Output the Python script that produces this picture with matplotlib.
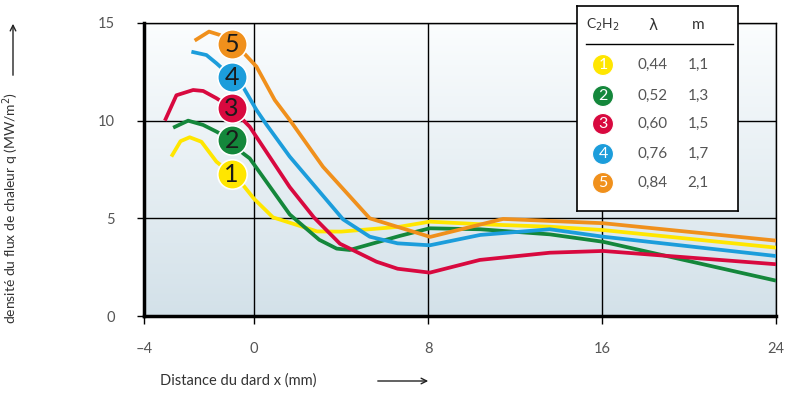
import numpy as np
import matplotlib
matplotlib.use('Agg')
import matplotlib.pyplot as plt
from matplotlib.patches import Circle
from matplotlib.colors import LinearSegmentedColormap

plt.rcParams['font.family'] = ['Lato', 'DejaVu Sans']

# courbes (x en mm, q en MW/m2)
x1 = [-3.8, -3.38, -2.96, -2.42, -1.73, -1.03, -0.51, 0.0, 0.87, 2.9, 4.0, 6.7, 8.08, 10.38, 13.6, 16.05, 24]
q1 = [8.16, 8.95, 9.15, 8.92, 7.9, 7.27, 6.71, 6.0, 5.05, 4.33, 4.32, 4.57, 4.83, 4.7, 4.57, 4.4, 3.5]

x2 = [-3.72, -3.03, -2.34, -1.73, -1.03, -0.51, -0.2, 1.64, 3.0, 3.8, 4.4, 6.7, 8.08, 10.4, 13.6, 16.05, 24]
q2 = [9.64, 10.0, 9.78, 9.44, 9.01, 8.33, 8.07, 5.2, 3.9, 3.45, 3.38, 4.1, 4.49, 4.44, 4.18, 3.8, 1.81]

x3 = [-4.1, -3.57, -2.8, -2.34, -1.73, -1.03, -0.51, -0.2, 1.64, 2.75, 3.95, 5.63, 6.6, 8.08, 10.38, 13.6, 16.05, 24]
q3 = [10.0, 11.3, 11.57, 11.52, 11.15, 10.65, 10.04, 9.69, 6.6, 5.05, 3.7, 2.78, 2.42, 2.22, 2.87, 3.24, 3.33, 2.65]

x4 = [-2.88, -2.19, -1.73, -1.03, -0.51, 0.11, 0.57, 1.64, 4.09, 5.32, 6.6, 8.08, 10.4, 13.6, 16.05, 24]
q4 = [13.53, 13.36, 12.94, 12.24, 11.74, 10.55, 9.8, 8.16, 4.95, 4.06, 3.72, 3.62, 4.15, 4.44, 4.06, 3.07]

x5 = [-2.73, -2.07, -1.58, -1.03, -0.52, 0.11, 0.95, 1.64, 3.17, 5.32, 8.1, 11.45, 16.05, 24]
q5 = [14.1, 14.56, 14.39, 13.93, 13.52, 12.77, 11.06, 10.04, 7.64, 5.0, 4.05, 4.97, 4.75, 3.86]

numeros = ['1', '2', '3', '4', '5']
couleurs = ['#ffe600', '#14873b', '#d8093f', '#1c9ddb', '#f0901c']
lambdas = ['0,44', '0,52', '0,60', '0,76', '0,84']
m_vals = ['1,1', '1,3', '1,5', '1,7', '2,1']
# position des pastilles sur les courbes
x_pastille = -1.03
y_pastille = [7.27, 9.01, 10.65, 12.24, 13.93]

xticks = [-5.06, 0, 8, 16, 24]
xtick_labels = ['\u20134', '0', '8', '16', '24']
yticks = [0, 5, 10, 15]

fig = plt.figure(figsize=(7.86, 3.96), dpi=100)
ax = fig.add_axes([144/786, 1-316/396, 632/786, 293/396])
ax.set_xlim(-5.06, 24)
ax.set_ylim(0, 15)

# fond dégradé
cmap = LinearSegmentedColormap.from_list('fond', ['#d3e1e9', '#fbfdfe'])
grad = np.linspace(0, 1, 256).reshape(-1, 1)
ax.imshow(grad, cmap=cmap, origin='lower', aspect='auto',
          extent=[-5.06, 24, 0, 15], zorder=0)

ax.grid(True, color='black', linewidth=1.0, zorder=1)
ax.set_axisbelow(False)

xs = [x1, x2, x3, x4, x5]
qs = [q1, q2, q3, q4, q5]
for i in range(5):
    ax.plot(xs[i], qs[i], color=couleurs[i], linewidth=2.7, zorder=3,
            solid_joinstyle='round', solid_capstyle='butt')
    ax.scatter([x_pastille], [y_pastille[i]], s=450, color=couleurs[i],
               edgecolors='white', linewidths=1.2, zorder=4)
    ax.text(x_pastille, y_pastille[i] - 0.05, numeros[i], ha='center', va='center',
            fontsize=18, color='#1a1a1a', zorder=5)

ax.set_xticks(xticks)
ax.set_xticklabels(xtick_labels)
ax.set_yticks(yticks)
ax.tick_params(axis='both', direction='out', colors='black', labelcolor='#555555',
               labelsize=10.5, width=1.0)
ax.tick_params(axis='x', length=6, pad=13)
ax.tick_params(axis='y', length=5, pad=16)
for s in ['left', 'bottom']:
    ax.spines[s].set_linewidth(2.5)
for s in ['top', 'right']:
    ax.spines[s].set_linewidth(1.0)

# titres des axes avec flèches
fig.text(160, 396-381, 'Distance du dard x (mm)', transform=None, ha='left', va='center',
         fontsize=10.5, color='#333333')
fig.text(11, 396-208, 'densité du flux de chaleur q (MW/m$^2$)', transform=None,
         ha='center', va='center', rotation=90, fontsize=10, color='#333333')
ax.annotate('', xy=(431, 396-381), xytext=(375, 396-381), xycoords='figure pixels',
            textcoords='figure pixels', arrowprops=dict(arrowstyle='->', color='#222222', lw=1.0))
ax.annotate('', xy=(13, 396-21), xytext=(13, 396-78), xycoords='figure pixels',
            textcoords='figure pixels', arrowprops=dict(arrowstyle='->', color='#222222', lw=1.0))

# tableau de légende
lg = fig.add_axes([577/786, 1-211/396, 161/786, 205/396], zorder=10)
lg.set_xlim(0, 161)
lg.set_ylim(205, 0)
lg.set_facecolor('white')
lg.set_xticks([])
lg.set_yticks([])
for s in lg.spines.values():
    s.set_linewidth(1.2)
lg.text(26, 19, 'C$_2$H$_2$', ha='center', va='center', fontsize=10, color='#333333')
lg.text(76, 19, '\u03bb', ha='center', va='center', fontsize=11, color='#333333',
        family=['DejaVu Sans'])
lg.text(121, 19, 'm', ha='center', va='center', fontsize=11, color='#333333')
lg.plot([9, 156], [38, 38], color='black', linewidth=1.0)
rows_y = [59, 90, 118, 148, 177]
for i in range(5):
    lg.add_patch(Circle((26, rows_y[i]), 10.5, facecolor=couleurs[i],
                        edgecolor='white', linewidth=0.8))
    lg.text(26, rows_y[i], numeros[i], ha='center', va='center', fontsize=11.5,
            color='white')
    lg.text(76, rows_y[i], lambdas[i], ha='center', va='center', fontsize=11,
            color='#555555')
    lg.text(121, rows_y[i], m_vals[i], ha='center', va='center', fontsize=11,
            color='#555555')

plt.savefig('out.png', dpi=100)
